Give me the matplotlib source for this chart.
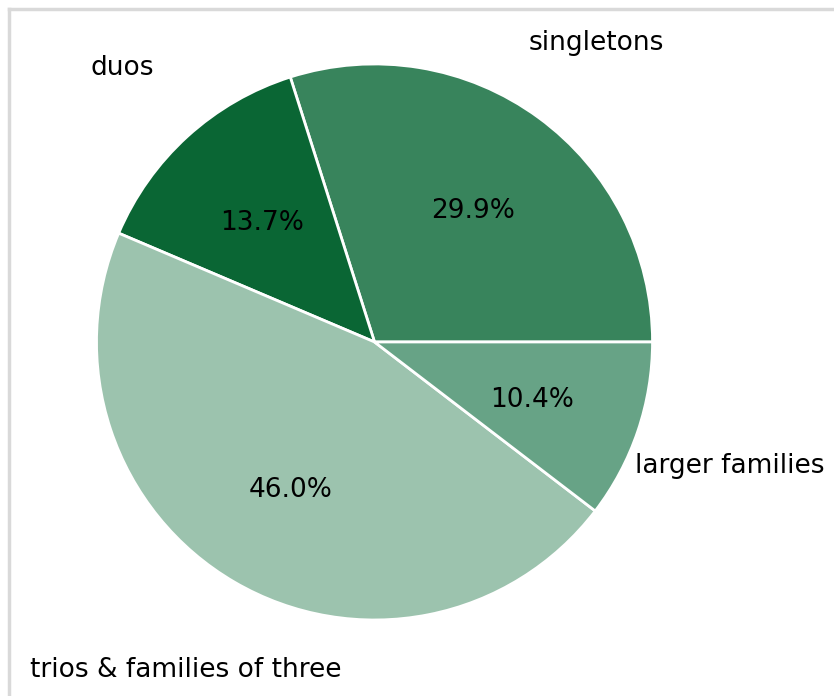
import matplotlib.pyplot as plt
from matplotlib.lines import Line2D
from matplotlib.transforms import ScaledTranslation

labels = ['singletons', 'duos', 'trios & families of three', 'larger families']
shares = [29.9, 13.7, 46.0, 10.4]
colors = ['#38845c', '#0a6634', '#9cc3ae', '#67a386']

fig = plt.figure(figsize=(8.34, 6.96), dpi=100)
ax = fig.add_axes([0.1157, 0.1092, 0.6667, 0.7989])
wedges, texts, autotexts = ax.pie(
    shares, labels=labels, colors=colors, autopct='%1.1f%%',
    startangle=0, labeldistance=1.35, pctdistance=0.6,
    wedgeprops={'edgecolor': 'white', 'linewidth': 2},
    textprops={'fontsize': 19})
ax.set_xlim(-1, 1)
ax.set_ylim(-1, 1)
ax.set_aspect('equal')

# nudge all texts down a little
shift = ScaledTranslation(0, -4 / 100, fig.dpi_scale_trans)
for t in texts:
    t.set_horizontalalignment('center')
for t in texts + autotexts:
    t.set_transform(t.get_transform() + shift)

# light grey frame on the left and top edge
fig.add_artist(Line2D([0.0105, 0.0105], [0, 0.9875], color='#d9d9d9', lw=2.5, transform=fig.transFigure))
fig.add_artist(Line2D([0.0105, 1], [0.9875, 0.9875], color='#d9d9d9', lw=2.5, transform=fig.transFigure))

fig.savefig('out.png', dpi=100)
